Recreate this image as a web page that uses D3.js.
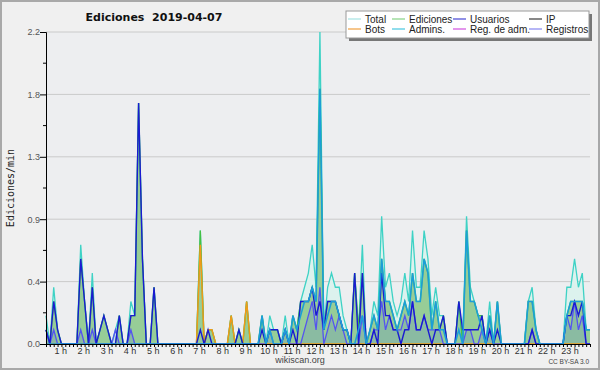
<!DOCTYPE html>
<html><head><meta charset="utf-8">
<script src="https://cdn.jsdelivr.net/npm/d3@7"></script>
<style>body{margin:0;background:#f0f0f0;}svg{display:block;font-family:"Liberation Sans",Arial,sans-serif;}</style>
</head><body><svg id="c" width="600" height="370"></svg>
<script>
const title = "Ediciones  2019-04-07";
const yTitle = "Ediciones/min";
const hourLabels = ["1 h","2 h","3 h","4 h","5 h","6 h","7 h","8 h","9 h","10 h","11 h","12 h","13 h","14 h","15 h","16 h","17 h","18 h","19 h","20 h","21 h","22 h","23 h"];
const yTicks = [0, 0.44, 0.88, 1.32, 1.76, 2.2];
const legendNames = ["Total","Ediciones","Usuarios","IP","Bots","Admins.","Reg. de adm.","Registros"];
const legendColors = ["#a6e3e3","#86d286","#4646d6","#3a3a3a","#f0a040","#46c6e0","#d050e0","#8686f0"];
// 10-minute bins, 00:00 .. 23:30
const total = [
0.2,0,0.4,0.1,0,0,0,0,0,0.7, 0.3,0,0.5,0,0.1,0.2,0.1,0,0.1,0.2,
0,0,0.3,0.2,1.7,0.6,0,0,0.4,0, 0,0,0,0,0,0,0,0,0,0,
0.8,0,0.1,0.1,0,0,0,0,0.2,0, 0.1,0,0.3,0,0,0,0.2,0,0.2,0.1,
0.1,0,0.2,0,0.2,0.1,0.3,0.4,0.5,0.7, 0.4,2.2,0.1,0.4,0.5,0.4,0.4,0.2,0.1,0,
0.5,0.1,0.7,0,0.1,0.3,0.2,0.9,0.4,0.5, 0.3,0.2,0.3,0.5,0.3,0.8,0.4,0.4,0.8,0.6,
0.2,0.4,0.2,0.2,0,0,0,0.3,0,0.9, 0.4,0.3,0.2,0.2,0,0.3,0,0.3,0,0,
0,0,0,0,0,0.3,0.4,0.1,0,0, 0,0,0,0,0,0.4,0.4,0.6,0.4,0.5, 0.1,0.1];
const edits = [
0.1,0,0.3,0.1,0,0,0,0,0,0.6, 0.3,0,0.4,0,0.1,0.2,0.1,0,0,0.2,
0,0,0.2,0.2,1.7,0.6,0,0,0.4,0, 0,0,0,0,0,0,0,0,0,0,
0.8,0,0.1,0.1,0,0,0,0,0.2,0, 0.1,0,0.3,0,0,0,0.2,0,0.1,0.1,
0.1,0,0.1,0,0.2,0.1,0.3,0.3,0.3,0.4, 0.3,1.8,0.1,0.3,0.3,0.3,0.2,0.1,0.1,0,
0.5,0.1,0.5,0,0.1,0.2,0.1,0.6,0.3,0.3, 0.2,0.1,0.2,0.3,0.2,0.5,0.3,0.3,0.6,0.5,
0.1,0.3,0.1,0.2,0,0,0,0.3,0,0.8, 0.3,0.3,0.2,0.2,0,0.2,0,0.3,0,0,
0,0,0,0,0,0.3,0.3,0.1,0,0, 0,0,0,0,0,0.2,0.3,0.3,0.3,0.3, 0.1,0.1];
const users = [
0.1,0,0.3,0.1,0,0,0,0,0,0.6, 0.3,0,0.4,0,0.1,0.2,0.1,0,0,0.2,
0,0,0.2,0.2,1.7,0.6,0,0,0.4,0, 0,0,0,0,0,0,0,0,0,0,
0.1,0,0.1,0,0,0,0,0,0,0, 0.1,0,0,0,0,0,0.1,0,0.1,0.1,
0.1,0,0.1,0,0.1,0,0.3,0.3,0.3,0.4, 0.2,0.3,0.1,0.3,0.3,0.3,0.2,0.1,0.1,0,
0.5,0,0.5,0,0,0.1,0,0.5,0.2,0.2, 0.1,0.1,0,0.1,0.1,0.3,0.1,0.1,0.2,0.1,
0,0.1,0.1,0.2,0,0,0,0.3,0.1,0.1, 0.1,0.1,0.1,0.2,0,0.1,0,0.1,0,0,
0,0,0,0,0,0,0.1,0,0,0, 0,0,0,0,0,0.2,0.2,0.3,0.2,0.3, 0,0];
const admins = [
0,0,0,0,0,0,0,0,0,0, 0,0,0,0,0,0,0,0,0,0,
0,0,0,0,0,0,0,0,0,0, 0,0,0,0,0,0,0,0,0,0,
0,0,0,0,0,0,0,0,0,0, 0,0,0,0,0,0,0.2,0,0.1,0,
0,0,0.1,0,0.2,0.1,0.2,0.3,0.3,0.4, 0.3,1.8,0.1,0.2,0.3,0.3,0.2,0.1,0.1,0,
0,0.1,0.2,0,0.1,0.2,0.1,0.6,0.3,0.3, 0.2,0.1,0.2,0.3,0.2,0.5,0.3,0.3,0.6,0.5,
0.1,0.3,0.1,0.1,0,0,0,0.1,0,0.8, 0.3,0.3,0.2,0.1,0,0.2,0,0.3,0,0,
0,0,0,0,0,0.3,0.3,0.1,0,0, 0,0,0,0,0,0.2,0.3,0.3,0.3,0.3, 0.1,0.1];
const bots = [
0,0,0,0,0,0,0,0,0,0, 0,0,0,0,0,0,0,0,0,0,
0,0,0,0,0,0,0,0,0,0, 0,0,0,0,0,0,0,0,0,0,
0.7,0,0.1,0.1,0,0,0,0,0.2,0, 0,0,0.3,0,0,0,0,0,0,0,
0,0,0,0,0,0,0,0,0,0, 0,0,0,0,0,0,0,0,0,0,
0,0,0,0,0,0,0,0,0,0, 0,0,0,0,0,0,0,0,0,0,
0,0,0,0,0,0,0,0,0,0, 0,0,0,0,0,0,0,0,0,0,
0,0,0,0,0,0,0,0,0,0, 0,0,0,0,0,0,0,0,0,0, 0,0];
const logs = [
0.1,0,0.1,0,0,0,0,0,0,0.1, 0,0,0.1,0,0,0,0,0,0.1,0,
0,0,0.1,0,0,0,0,0,0,0, 0,0,0,0,0,0,0,0,0,0,
0,0,0,0,0,0,0,0,0,0, 0,0,0,0,0,0,0,0,0.1,0,
0,0,0.1,0,0,0,0,0.1,0.2,0.3, 0.1,0.4,0,0.1,0.2,0.1,0.2,0.1,0,0,
0,0,0.2,0,0,0.1,0.1,0.3,0.1,0.2, 0.1,0.1,0.1,0.2,0.1,0.3,0.1,0.1,0.2,0.1,
0.1,0.1,0.1,0,0,0,0,0,0,0.1, 0.1,0,0,0.1,0,0.1,0,0,0,0,
0,0,0,0,0,0,0.1,0,0,0, 0,0,0,0,0,0.2,0.1,0.3,0.1,0.2, 0,0];

const svg = d3.select("#c");
const W = 600, H = 370;
const m = {l:46, r:590, t:32, b:344};
svg.append("rect").attr("x",1).attr("y",1).attr("width",W-2).attr("height",H-2)
  .attr("fill","#f0f0f0").attr("stroke","#a9a9a9").attr("stroke-width",2);
svg.append("rect").attr("x",m.l).attr("y",m.t).attr("width",m.r-m.l).attr("height",m.b-m.t).attr("fill","#edeef0");

const x = d3.scaleLinear().domain([0, total.length-1]).range([m.l, m.r]);
const y = d3.scaleLinear().domain([0, 2.2]).range([m.b, m.t]);

// grid
svg.append("g").selectAll("line").data(yTicks.slice(1)).join("line")
  .attr("x1",m.l).attr("x2",m.r).attr("y1",d=>y(d)).attr("y2",d=>y(d))
  .attr("stroke","#cacaca").attr("stroke-width",1);

const idx = d3.range(total.length);
const area = arr => d3.area().x(i=>x(i)).y0(y(0)).y1(i=>y(arr[i]))(idx);
const line = arr => d3.line().x(i=>x(i)).y(i=>y(arr[i]))(idx);

svg.append("path").attr("d",area(total)).attr("fill","#dcf2ee");
svg.append("path").attr("d",area(edits)).attr("fill","#97cd97");
svg.append("path").attr("d",area(logs)).attr("fill","rgba(80,100,220,0.17)");
svg.append("path").attr("d",line(total)).attr("fill","none").attr("stroke","#3ed2c5").attr("stroke-width",1.3);
svg.append("path").attr("d",line(edits)).attr("fill","none").attr("stroke","#44c044").attr("stroke-width",1.3);
svg.append("path").attr("d",line(bots)).attr("fill","none").attr("stroke","#f09a18").attr("stroke-width",1.5);
svg.append("path").attr("d",line(logs)).attr("fill","none").attr("stroke","#5454f0").attr("stroke-width",1.3);
svg.append("path").attr("d",line(users)).attr("fill","none").attr("stroke","#1a1ad2").attr("stroke-width",1.4);
svg.append("path").attr("d",line(admins)).attr("fill","none").attr("stroke","#1c9ed8").attr("stroke-width",1.6);

// axes
const yAxis = svg.append("g").attr("transform",`translate(${m.l},0)`)
  .call(d3.axisLeft(y).tickValues(yTicks).tickSize(6).tickFormat(d3.format(".1f")));
yAxis.select(".domain").attr("stroke","#000");
yAxis.selectAll(".tick line").attr("stroke","#000");
yAxis.selectAll("text").attr("fill","#555").attr("font-size",9).attr("x",-6)
  .attr("font-family","Liberation Sans");
const minorY = d3.range(1, 10, 2).map(k => k*0.22);
svg.append("g").selectAll("line").data(minorY).join("line")
  .attr("x1",m.l-3).attr("x2",m.l).attr("y1",d=>y(d)).attr("y2",d=>y(d)).attr("stroke","#000");

const xAxis = svg.append("g").attr("transform",`translate(0,${m.b})`)
  .call(d3.axisBottom(x).tickValues(idx).tickSize(3).tickFormat(""));
xAxis.select(".domain").attr("stroke","#000");
xAxis.selectAll(".tick line").attr("stroke","#000");
svg.append("g").selectAll("text").data(hourLabels).join("text")
  .attr("x",(d,k)=>x((k+1)*6)).attr("dx",-8.5).attr("y",354)
  .attr("text-anchor","middle").attr("font-size",9).attr("fill","#333").text(d=>d);

// texts
svg.append("text").attr("x",154).attr("y",21).attr("text-anchor","middle")
  .attr("font-family","DejaVu Sans").style("white-space","pre")
  .attr("font-size",11).attr("font-weight","bold").attr("fill","#111").text(title);
svg.append("text").attr("transform","translate(14,188) rotate(-90)").attr("text-anchor","middle")
  .attr("font-size",10).attr("fill","#222").attr("font-family","DejaVu Sans Mono").text(yTitle);
svg.append("text").attr("x",300).attr("y",363).attr("text-anchor","middle")
  .attr("font-size",9).attr("fill","#444").text("wikiscan.org");
svg.append("text").attr("x",589).attr("y",364).attr("text-anchor","end")
  .attr("font-size",6.5).attr("fill","#444").text("CC BY-SA 3.0");

// legend
const lg = svg.append("g");
lg.append("rect").attr("x",349).attr("y",14).attr("width",243).attr("height",27).attr("fill","#777");
lg.append("rect").attr("x",346).attr("y",11).attr("width",243).attr("height",27).attr("fill","#fff").attr("stroke","#999");
const colX = [348, 392, 453, 529];
legendNames.forEach((n,k)=>{
  const cx = colX[k%4], cy = k<4 ? 19 : 29;
  lg.append("line").attr("x1",cx).attr("x2",cx+13).attr("y1",cy).attr("y2",cy).attr("stroke",legendColors[k]).attr("stroke-width",1.2);
  lg.append("text").attr("x",cx+17).attr("y",cy+3.5).attr("font-size",10).attr("fill","#222").text(n);
});
</script></body></html>
